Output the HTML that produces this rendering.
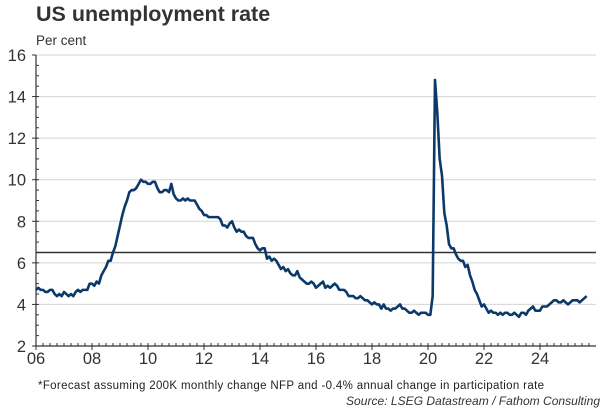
<!DOCTYPE html>
<html><head><meta charset="utf-8"><style>
body{margin:0;background:#fff;width:615px;height:410px;overflow:hidden;font-family:"Liberation Sans",Arial,sans-serif}
</style></head><body>
<svg id="c" width="615" height="410" xmlns="http://www.w3.org/2000/svg">
<text x="36" y="21" font-size="21.5" font-weight="bold" fill="#333">US unemployment rate</text>
<text x="36" y="45" font-size="13.5" fill="#333">Per cent</text>
<text x="38" y="389" font-size="11.5" fill="#222" textLength="506">*Forecast assuming 200K monthly change NFP and -0.4% annual change in participation rate</text>
<text x="346" y="405" font-size="12" font-style="italic" fill="#333" textLength="254">Source: LSEG Datastream / Fathom Consulting</text>
<g id="g"></g>
</svg>
<script>
const yTicks=[2,4,6,8,10,12,14,16];
const xTickLabels=["06","08","10","12","14","16","18","20","22","24"];
const thresholdValue=6.5;
const startYear=2006;
const unemployment=[
4.7,4.8,4.7,4.7,4.6,4.6,4.7,4.7,4.5,4.4,4.5,4.4,
4.6,4.5,4.4,4.5,4.4,4.6,4.7,4.6,4.7,4.7,4.7,5.0,
5.0,4.9,5.1,5.0,5.4,5.6,5.8,6.1,6.1,6.5,6.8,7.3,
7.8,8.3,8.7,9.0,9.4,9.5,9.5,9.6,9.8,10.0,9.9,9.9,
9.8,9.8,9.9,9.9,9.6,9.4,9.4,9.5,9.5,9.4,9.8,9.3,
9.1,9.0,9.0,9.1,9.0,9.1,9.0,9.0,9.0,8.8,8.6,8.5,
8.3,8.3,8.2,8.2,8.2,8.2,8.2,8.1,7.8,7.8,7.7,7.9,
8.0,7.7,7.5,7.6,7.5,7.5,7.3,7.2,7.2,7.2,6.9,6.7,
6.6,6.7,6.7,6.2,6.3,6.1,6.2,6.1,5.9,5.7,5.8,5.6,
5.7,5.5,5.4,5.4,5.6,5.3,5.2,5.1,5.0,5.0,5.1,5.0,
4.8,4.9,5.0,5.1,4.8,4.9,4.8,4.9,5.0,4.9,4.7,4.7,
4.7,4.6,4.4,4.4,4.4,4.3,4.3,4.4,4.3,4.2,4.2,4.1,
4.0,4.1,4.0,4.0,3.8,4.0,3.8,3.8,3.7,3.8,3.8,3.9,
4.0,3.8,3.8,3.7,3.6,3.6,3.7,3.6,3.5,3.6,3.6,3.6,
3.5,3.5,4.4,14.8,13.2,11.0,10.2,8.4,7.8,6.9,6.7,6.7,
6.4,6.2,6.1,6.1,5.8,5.9,5.4,5.1,4.7,4.5,4.2,3.9,
4.0,3.8,3.6,3.7,3.6,3.6,3.5,3.6,3.5,3.6,3.6,3.5,
3.5,3.6,3.5,3.4,3.6,3.6,3.5,3.7,3.8,3.9,3.7,3.7,
3.7,3.9,3.9,3.9,4.0,4.1,4.2,4.2,4.1,4.1,4.2,4.1,
4.0,4.1,4.2,4.2,4.2,4.1,4.2,4.3,4.4];
const NS="http://www.w3.org/2000/svg";
const g=document.getElementById('g');
const L=36,R=596,T=55,B=346,yMin=2,yMax=16,xPerYear=28;
const x=t=>L+(t-startYear)*xPerYear;
const y=v=>B-(v-yMin)/(yMax-yMin)*(B-T);
function mk(tag,a){const e=document.createElementNS(NS,tag);for(const k in a)e.setAttribute(k,a[k]);g.appendChild(e);return e;}
yTicks.forEach(v=>{
 if(v>yMin){const l=mk('line',{x1:L,x2:R,y1:y(v),y2:y(v),stroke:'#d4d4d4','stroke-width':1});
 
 }
 const t=mk('text',{x:26,y:y(v)+6,'font-size':16.5,fill:'#333','text-anchor':'end'});t.textContent=v;
 
 
 mk('line',{x1:L-4,x2:L,y1:y(v),y2:y(v),stroke:'#333','stroke-width':1});
});
for(let v=yMin;v<yMax;v+=0.5){mk('line',{x1:L,x2:L+3,y1:y(v),y2:y(v),stroke:'#333','stroke-width':1});}
const th=mk('line',{x1:L,x2:R,y1:y(thresholdValue),y2:y(thresholdValue),stroke:'#333','stroke-width':1.5});


const ya=mk('line',{x1:L,x2:L,y1:T,y2:B,stroke:'#333','stroke-width':1.2});


const xa=mk('line',{x1:L,x2:R,y1:B,y2:B,stroke:'#333','stroke-width':1.2});


for(let q=0;q<20*4;q++){const xx=x(startYear+q/4);mk('line',{x1:xx,x2:xx,y1:B-3,y2:B,stroke:'#333','stroke-width':1});}
xTickLabels.forEach((s,i)=>{const xx=x(startYear+2*i);
 mk('line',{x1:xx,x2:xx,y1:B,y2:B+4,stroke:'#333','stroke-width':1});
 const t=mk('text',{x:xx,y:B+18,'font-size':16.5,fill:'#333','text-anchor':'middle'});t.textContent=s;
 
 });
const d=unemployment.map((v,i)=>(i?'L':'M')+x(startYear+i/12).toFixed(2)+','+y(v).toFixed(2)).join('');
const p=mk('path',{d:d,fill:'none',stroke:'#0b3a6a','stroke-width':2.6,'stroke-linejoin':'round'});


</script>
</body></html>
